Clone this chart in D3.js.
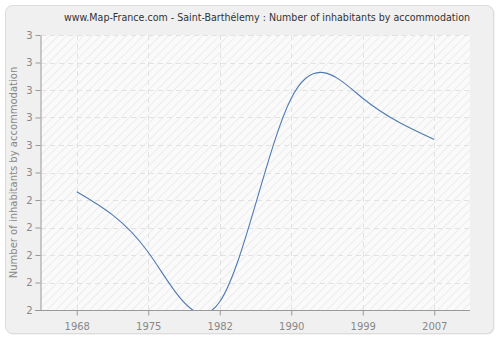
<!DOCTYPE html>
<html>
<head>
<meta charset="utf-8">
<script src="https://cdn.jsdelivr.net/npm/d3@7"></script>
<style>
  body { margin: 0; background: #fff; }
  svg { display: block; font-family: "DejaVu Sans", Verdana, sans-serif; }
</style>
</head>
<body>
<script>
// Number of inhabitants by accommodation, Saint-Barthélemy
const years = ['1968', '1975', '1982', '1990', '1999', '2007'];
const values = [2.43, 2.21, 2.03, 2.77, 2.77, 2.62];
const yTicks = [2.0, 2.1, 2.2, 2.3, 2.4, 2.5, 2.6, 2.7, 2.8, 2.9, 3.0];

const w = 500, h = 340;
const margin = { top: 35, right: 30, bottom: 30, left: 41 };

const svg = d3.select('body').append('svg')
  .attr('width', w)
  .attr('height', h);

const defs = svg.append('defs');

// light diagonal hatching in the plot area
const pat = defs.append('pattern')
  .attr('id', 'hatch')
  .attr('patternUnits', 'userSpaceOnUse')
  .attr('width', 6)
  .attr('height', 6)
  .attr('patternTransform', 'rotate(45)');
pat.append('rect').attr('width', 6).attr('height', 6).attr('fill', '#fafafa');
pat.append('line')
  .attr('x1', 0).attr('y1', 0).attr('x2', 0).attr('y2', 6)
  .attr('stroke', '#ececec').attr('stroke-width', 2);

defs.append('clipPath').attr('id', 'plotclip')
  .append('rect')
  .attr('x', margin.left)
  .attr('y', margin.top)
  .attr('width', w - margin.left - margin.right)
  .attr('height', h - margin.top - margin.bottom);

// outer panel
svg.append('rect')
  .attr('x', 6.5).attr('y', 6.5)
  .attr('width', w - 12).attr('height', h - 12)
  .attr('rx', 7)
  .attr('fill', '#e6e6e6');
svg.append('rect')
  .attr('x', 5.5).attr('y', 5.5)
  .attr('width', w - 12).attr('height', h - 12)
  .attr('rx', 7)
  .attr('fill', '#f0f0f0')
  .attr('stroke', '#dcdcdc');

const x = d3.scalePoint()
  .domain(years)
  .range([margin.left, w - margin.right])
  .padding(0.5);

const y = d3.scaleLinear()
  .domain([2, 3])
  .range([h - margin.bottom, margin.top]);

// plot background
svg.append('rect')
  .attr('x', margin.left)
  .attr('y', margin.top)
  .attr('width', w - margin.left - margin.right)
  .attr('height', h - margin.top - margin.bottom)
  .attr('fill', 'url(#hatch)');

// grid
const grid = svg.append('g')
  .attr('stroke', '#e2e2e2')
  .attr('stroke-dasharray', '5,4');
grid.selectAll('line.h')
  .data(yTicks.slice(1))
  .join('line')
  .attr('class', 'h')
  .attr('x1', margin.left).attr('x2', w - margin.right)
  .attr('y1', d => Math.round(y(d)) + 0.5)
  .attr('y2', d => Math.round(y(d)) + 0.5);
grid.selectAll('line.v')
  .data(years)
  .join('line')
  .attr('class', 'v')
  .attr('x1', d => Math.round(x(d)) + 0.5)
  .attr('x2', d => Math.round(x(d)) + 0.5)
  .attr('y1', margin.top).attr('y2', h - margin.bottom);

// line
const line = d3.line()
  .x((d, i) => x(years[i]))
  .y(d => y(d))
  .curve(d3.curveNatural);

svg.append('path')
  .datum(values)
  .attr('clip-path', 'url(#plotclip)')
  .attr('d', line)
  .attr('fill', 'none')
  .attr('stroke', '#4f7ab3')
  .attr('stroke-width', 1.1);

// axes
const xAxis = svg.append('g')
  .attr('transform', `translate(0,${h - margin.bottom + 0.5})`)
  .call(d3.axisBottom(x).tickSize(5).tickSizeOuter(0));
const yAxis = svg.append('g')
  .attr('transform', `translate(${margin.left - 0.5},0)`)
  .call(d3.axisLeft(y).tickValues(yTicks).tickFormat(d3.format('.0f')).tickSize(5).tickSizeOuter(0));

[xAxis, yAxis].forEach(a => {
  a.select('.domain').attr('stroke', '#999');
  a.selectAll('.tick line').attr('stroke', '#999');
  a.selectAll('.tick text')
    .attr('fill', '#888')
    .attr('font-size', 10)
    .attr('font-family', '"DejaVu Sans", Verdana, sans-serif');
});
xAxis.select('.domain').attr('d', `M${margin.left - 6},0H${w - margin.right}`);
xAxis.selectAll('.tick text').attr('dy', '1.1em');

// title
svg.append('text')
  .attr('x', 64)
  .attr('y', 21)
  .attr('font-size', 10.5)
  .attr('font-family', '"DejaVu Sans Condensed", "DejaVu Sans", sans-serif')
  .attr('font-stretch', 'condensed')
  .attr('fill', '#333')
  .attr('textLength', 406)
  .attr('lengthAdjust', 'spacingAndGlyphs')
  .text('www.Map-France.com - Saint-Barthélemy : Number of inhabitants by accommodation');

// y label
svg.append('text')
  .attr('transform', `translate(17,${(margin.top + h - margin.bottom) / 2}) rotate(-90)`)
  .attr('text-anchor', 'middle')
  .attr('font-size', 10)
  .attr('fill', '#888')
  .text('Number of inhabitants by accommodation');
</script>
</body>
</html>
